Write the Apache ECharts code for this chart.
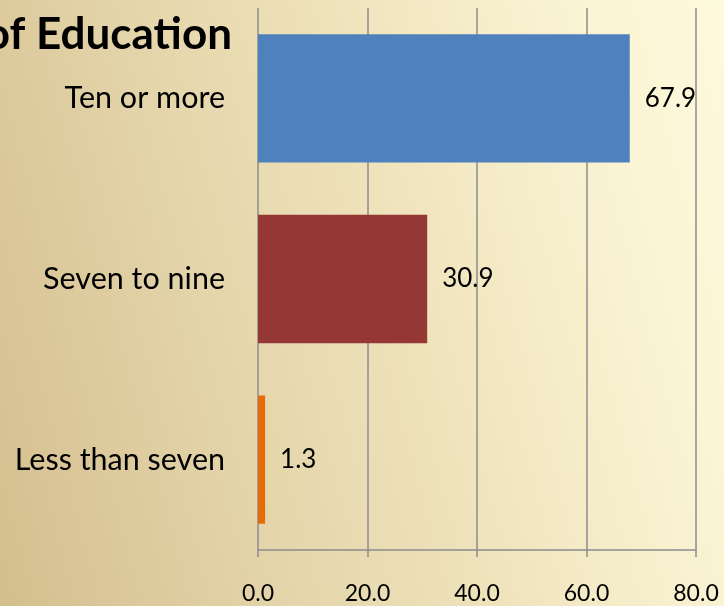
<!DOCTYPE html>
<html>
<head>
<meta charset="utf-8">
<script src="https://cdn.jsdelivr.net/npm/echarts@6/dist/echarts.min.js"></script>
<style>
  html, body { margin: 0; padding: 0; }
  #chart {
    width: 724px; height: 606px;
    background: linear-gradient(75deg, #D4BE8E 0%, #E3D3A8 30%, #F2E7C1 62%, #FBF5D5 85%, #FDF9DB 100%);
  }
</style>
</head>
<body>
<div id="chart"></div>
<script>
// Years of schooling groups, top to bottom
const categories = ['Ten or more', 'Seven to nine', 'Less than seven'];
const shares = [67.9, 30.9, 1.3];
const barColors = ['#4F81BD', '#953735', '#E46C0A'];
const xTicks = { min: 0, max: 80, interval: 20 };
const titleText = 'of Education';

const FONT = 'Lato';
const chart = echarts.init(document.getElementById('chart'), null, { renderer: 'canvas' });

chart.setOption({
  backgroundColor: 'transparent',
  animation: false,
  graphic: [{
    type: 'text',
    right: 724 - 232,
    top: 13,
    style: {
      text: titleText,
      font: 'bold 44px ' + FONT,
      fill: '#000'
    }
  }],
  grid: { left: 258, right: 28, top: 8, bottom: 56, containLabel: false },
  xAxis: {
    type: 'value',
    min: xTicks.min, max: xTicks.max, interval: xTicks.interval,
    axisLine: { show: true, lineStyle: { color: '#8C8C8C', width: 1.5 } },
    axisTick: { show: true, length: 7, lineStyle: { color: '#8C8C8C', width: 1.5 } },
    axisLabel: {
      formatter: v => v.toFixed(1),
      color: '#000', fontFamily: FONT, fontSize: 23, margin: 32
    },
    splitLine: { show: true, lineStyle: { color: '#8C8C8C', width: 1.5 } }
  },
  yAxis: {
    type: 'category',
    data: categories,
    inverse: true,
    axisLine: { show: false },
    axisTick: { show: false },
    axisLabel: { color: '#000', fontFamily: FONT, fontSize: 30.5, margin: 33 }
  },
  series: [{
    type: 'bar',
    barCategoryGap: '29%',
    data: shares.map((v, i) => ({ value: v, itemStyle: { color: barColors[i] } })),
    label: {
      show: true, position: 'right', distance: 15,
      formatter: p => p.value.toFixed(1),
      color: '#000', fontFamily: FONT, fontSize: 26
    }
  }]
});
</script>
</body>
</html>
